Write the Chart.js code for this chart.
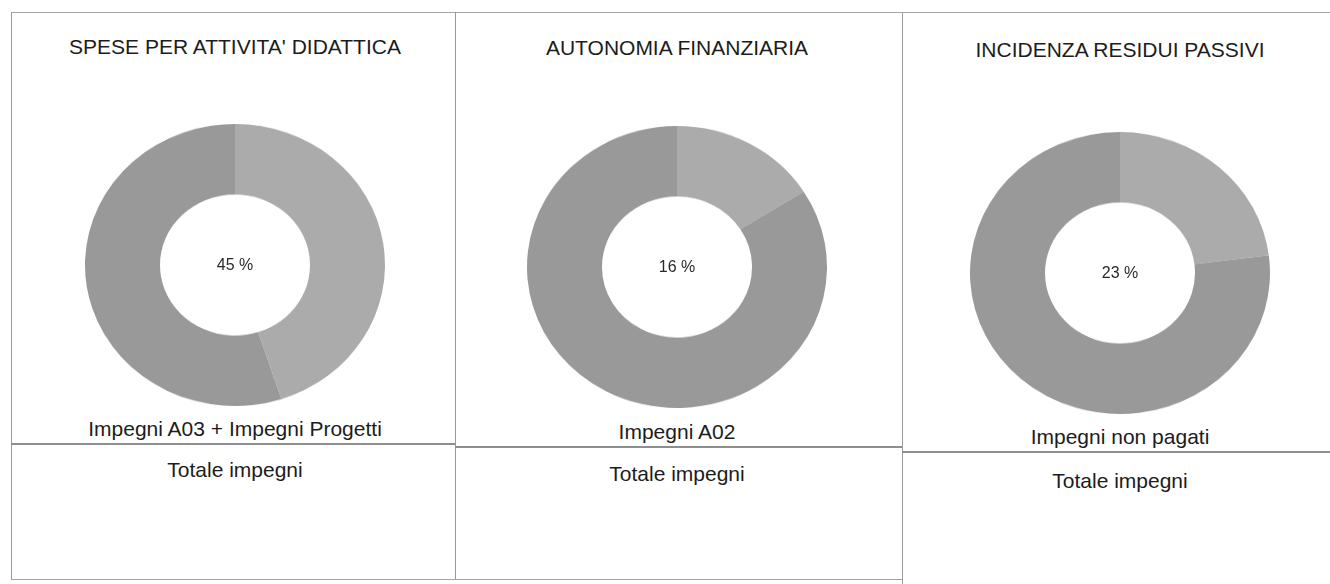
<!DOCTYPE html>
<html>
<head>
<meta charset="utf-8">
<script src="https://cdn.jsdelivr.net/npm/chart.js@4.4.1/dist/chart.umd.min.js"></script>
<style>
  html, body { margin: 0; padding: 0; background: #fff; }
  body { width: 1330px; height: 584px; position: relative; overflow: hidden;
         font-family: Arial, "Liberation Sans", sans-serif; color: #1c1c1c; }
  .line { position: absolute; background: #9a9a9a; }
  .txt { position: absolute; height: 24px; line-height: 24px; white-space: nowrap;
         transform: translateX(-50%); font-size: 21px; }
  .pct { font-size: 16px; color: #2a2a2a; }
  .wrap { position: absolute; width: 320px; height: 320px; transform: scaleY(0.94); }
</style>
</head>
<body>
<div id="root"></div>
<script>
// indicator data
const titles = ["SPESE PER ATTIVITA' DIDATTICA", "AUTONOMIA FINANZIARIA", "INCIDENZA RESIDUI PASSIVI"];
const numerators = ["Impegni A03 + Impegni Progetti", "Impegni A02", "Impegni non pagati"];
const denominators = ["Totale impegni", "Totale impegni", "Totale impegni"];
const shares = [45, 16, 23];
const remainders = [55, 84, 77];

// layout of the three table cells (scan is slightly tilted)
const cx = [235, 677, 1120];
const cy = [265, 267, 273];
const shift = [0, 3, 8];

const root = document.getElementById("root");

function addLine(x, y, w, h, color) {
  const d = document.createElement("div");
  d.className = "line";
  d.style.left = x + "px"; d.style.top = y + "px";
  d.style.width = w + "px"; d.style.height = h + "px";
  if (color) d.style.background = color;
  root.appendChild(d);
}

function addText(str, x, y, cls) {
  const d = document.createElement("div");
  d.className = "txt" + (cls ? " " + cls : "");
  d.style.left = x + "px";
  d.style.top = (y - 12) + "px";
  d.textContent = str;
  root.appendChild(d);
}

// table borders
addLine(11, 12, 1319, 1, "#a5a5a5");
addLine(11, 12, 1, 568);
addLine(455, 12, 1, 568);
addLine(902, 13, 1, 571);
addLine(11, 579, 891, 1, "#a5a5a5");
addLine(11, 443, 444, 2, "#8e8e8e");
addLine(455, 446, 447, 2, "#8e8e8e");
addLine(902, 451, 428, 2, "#8e8e8e");

for (let i = 0; i < titles.length; i++) {
  addText(titles[i], cx[i], 47 + shift[i] * 0.4);
  addText(numerators[i], cx[i], 429 + shift[i]);
  addText(denominators[i], cx[i], 470 + shift[i] * 1.4);

  const wrap = document.createElement("div");
  wrap.className = "wrap";
  wrap.style.left = (cx[i] - 160) + "px";
  wrap.style.top = (cy[i] - 160) + "px";
  const canvas = document.createElement("canvas");
  canvas.width = 320; canvas.height = 320;
  wrap.appendChild(canvas);
  root.appendChild(wrap);
  addText(shares[i] + " %", cx[i], cy[i], "pct");

  new Chart(canvas, {
    type: "doughnut",
    data: {
      labels: [numerators[i], "Altro"],
      datasets: [{
        data: [shares[i], remainders[i]],
        backgroundColor: ["#ababab", "#999999"],
        borderWidth: 0,
        hoverOffset: 0,
      }],
    },
    options: {
      responsive: false,
      animation: false,
      events: [],
      cutout: "50%",
      layout: { padding: 10 },
      plugins: {
        legend: { display: false },
        tooltip: { enabled: false },
      },
    },
  });
}
</script>
</body>
</html>
